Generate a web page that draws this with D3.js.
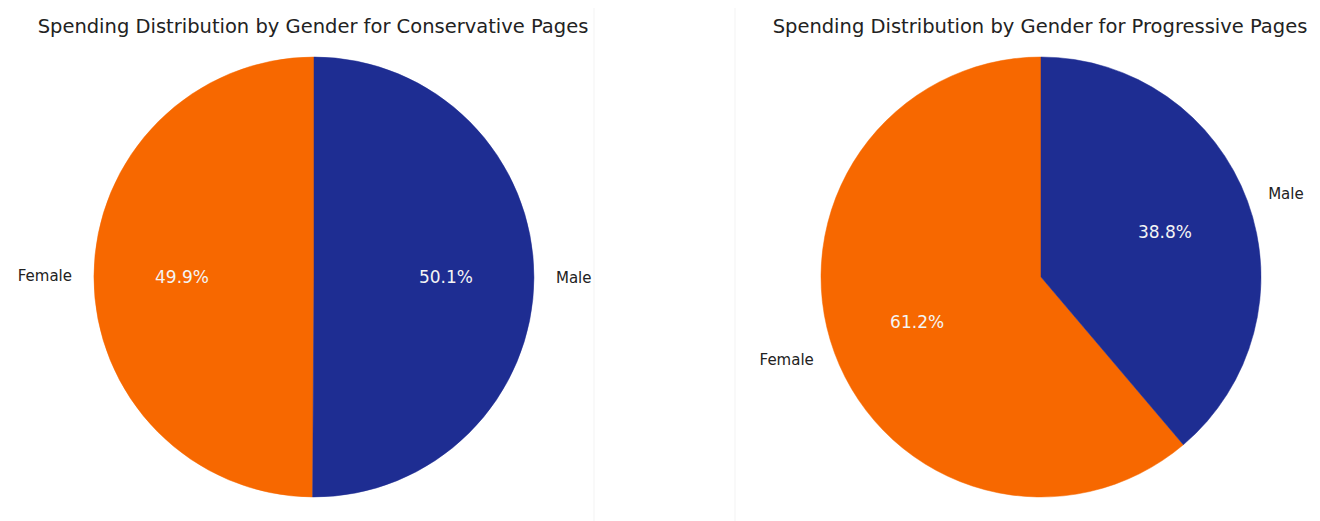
<!DOCTYPE html>
<html>
<head>
<meta charset="utf-8">
<script src="https://cdn.jsdelivr.net/npm/d3@7"></script>
<style>
  html, body { margin: 0; padding: 0; background: #ffffff; }
  svg { display: block; }
  text { font-family: "DejaVu Sans", sans-serif; }
</style>
</head>
<body>
<svg id="chart" width="1320" height="521"></svg>
<script>
// Spending share by gender, per page group
const genders = ["Female", "Male"];
const conservativeShares = [49.9, 50.1];
const progressiveShares = [61.2, 38.8];
const panelTitles = [
  "Spending Distribution by Gender for Conservative Pages",
  "Spending Distribution by Gender for Progressive Pages"
];
const genderColors = ["#f76800", "#1e2d92"];

const svg = d3.select("#chart");
const W = 1320, H = 521;

// faint panel edges
svg.append("line").attr("x1", 594).attr("x2", 594).attr("y1", 8).attr("y2", H)
  .attr("stroke", "#f3f3f3").attr("stroke-width", 1);
svg.append("line").attr("x1", 735).attr("x2", 735).attr("y1", 8).attr("y2", H)
  .attr("stroke", "#f3f3f3").attr("stroke-width", 1);

const panels = [
  { cx: 314, cy: 277, tx: 313, values: conservativeShares, title: panelTitles[0] },
  { cx: 1041, cy: 277, tx: 1040, values: progressiveShares, title: panelTitles[1] }
];
const R = 220;

const color = d3.scaleOrdinal().domain(genders).range(genderColors);

// start at 12 o'clock and run counter-clockwise
const pie = d3.pie().sort(null).value(d => d.value)
  .startAngle(0).endAngle(-2 * Math.PI);
const arc = d3.arc().innerRadius(0).outerRadius(R);

panels.forEach(p => {
  const g = svg.append("g").attr("transform", `translate(${p.cx},${p.cy})`);
  const data = genders.map((k, i) => ({ key: k, value: p.values[i] }));
  const arcs = pie(data);

  g.selectAll("path.wedge").data(arcs).join("path")
    .attr("class", "wedge")
    .attr("d", arc)
    .attr("fill", d => color(d.data.key))
    .attr("stroke", d => color(d.data.key))
    .attr("stroke-width", 0.5);

  const mid = d => (d.startAngle + d.endAngle) / 2;

  // category labels just outside the rim
  g.selectAll("text.cat").data(arcs).join("text")
    .attr("class", "cat")
    .attr("x", d => Math.sin(mid(d)) * R * 1.1)
    .attr("y", d => -Math.cos(mid(d)) * R * 1.1)
    .attr("text-anchor", d => Math.sin(mid(d)) < 0 ? "end" : "start")
    .attr("dominant-baseline", "central")
    .attr("font-size", 15)
    .attr("fill", "#222222")
    .text(d => d.data.key);

  // percentage labels inside the wedges
  g.selectAll("text.pct").data(arcs).join("text")
    .attr("class", "pct")
    .attr("x", d => Math.sin(mid(d)) * R * 0.6)
    .attr("y", d => -Math.cos(mid(d)) * R * 0.6)
    .attr("text-anchor", "middle")
    .attr("dominant-baseline", "central")
    .attr("font-size", 17)
    .attr("fill", "#f4f4f4")
    .text(d => d.data.value.toFixed(1) + "%");

  svg.append("text")
    .attr("x", p.tx)
    .attr("y", 26)
    .attr("text-anchor", "middle")
    .attr("dominant-baseline", "central")
    .attr("font-size", 19.5)
    .attr("fill", "#222222")
    .text(p.title);
});
</script>
</body>
</html>
